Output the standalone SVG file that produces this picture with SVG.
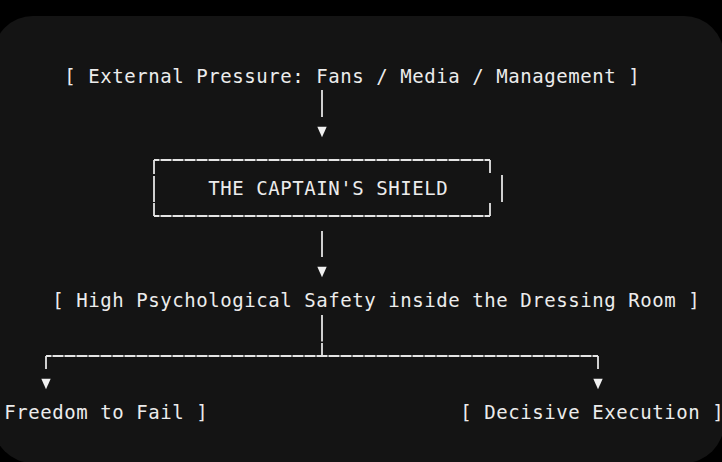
<svg xmlns="http://www.w3.org/2000/svg" width="722" height="462" viewBox="0 0 722 462">
  <style>
    .t { font-family: "DejaVu Sans Mono", "Liberation Mono", monospace; font-size: 19px; letter-spacing: 0.56px; fill: #ececec; }
    .ln { stroke: #e4e4e4; stroke-width: 1.8; fill: none; }
    .dash { stroke-dasharray: 11 1; stroke-dashoffset: 5.5; }
    .ah { fill: #f0f0f0; }
  </style>
  <rect x="0" y="0" width="722" height="462" fill="#000000"/>
  <rect x="-7" y="16" width="731" height="447" rx="40" ry="40" fill="#141414"/>

  <g id="node-external">
    <text class="t" x="64.3" y="83">[ External Pressure: Fans / Media / Management ]</text>
  </g>

  <g id="node-shield">
    <path class="ln dash" d="M154 160 H490"/>
    <path class="ln dash" d="M154 216 H490"/>
    <path class="ln" d="M154 160 V174 M154 176 V202 M154 203 V216 M490 160 V173 M490 203 V216 M502 175 V202"/>
    <text class="t" x="208.3" y="195">THE CAPTAIN'S SHIELD</text>
  </g>

  <g id="node-safety">
    <text class="t" x="52.3" y="307">[ High Psychological Safety inside the Dressing Room ]</text>
  </g>

  <g id="node-freedom">
    <text class="t" x="-19.7" y="419">[ Freedom to Fail ]</text>
  </g>

  <g id="node-execution">
    <text class="t" x="460.3" y="419">[ Decisive Execution ]</text>
  </g>

  <g id="connectors">
    <path class="ln" d="M322 90 V117"/>
    <polygon class="ah" points="317.3,126.7 326.7,126.7 322,137.3"/>
    <path class="ln" d="M322 231 V257"/>
    <polygon class="ah" points="317.3,266.7 326.7,266.7 322,277.3"/>
    <path class="ln" d="M322 315 V341.5 M322 343 V356"/>
    <path class="ln dash" d="M46 356 H598"/>
    <path class="ln" d="M46 356 V369 M598 356 V369"/>
    <polygon class="ah" points="41.3,378.7 50.7,378.7 46,389.3"/>
    <polygon class="ah" points="593.3,378.7 602.7,378.7 598,389.3"/>
  </g>
</svg>
